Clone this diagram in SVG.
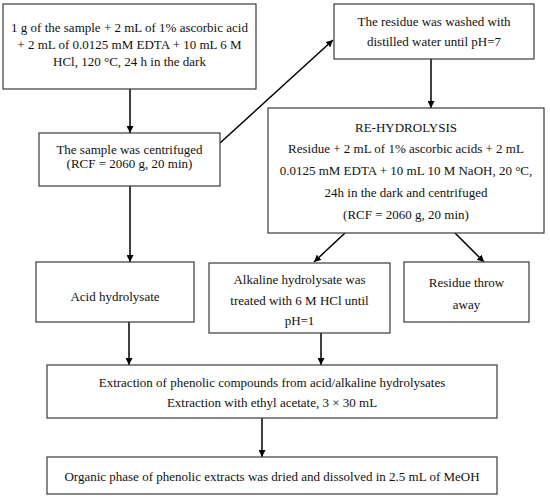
<svg xmlns="http://www.w3.org/2000/svg" width="550" height="501" viewBox="0 0 550 501">
<style>
rect{fill:#fff;stroke:#3a3a3a;stroke-width:1.2}
text{font-family:"Liberation Serif","Times New Roman",serif;font-size:13px;fill:#111;text-anchor:middle}
.c{stroke:#000;stroke-width:1.5;fill:none;marker-end:url(#ah)}
</style>
<defs>
<marker id="ah" viewBox="0 0 10 10" refX="10" refY="5" markerWidth="7" markerHeight="7" markerUnits="userSpaceOnUse" orient="auto"><path d="M0,0 L10,5 L0,10 z" fill="#000"/></marker>
</defs>
<rect x="0" y="0" width="550" height="501" style="fill:#fff;stroke:none"/>
<g id="connectors">
<line class="c" x1="130" y1="89" x2="130" y2="133"/>
<line class="c" x1="220" y1="143" x2="333" y2="40"/>
<line class="c" x1="431" y1="59" x2="431" y2="108"/>
<line class="c" x1="130" y1="186" x2="130" y2="262"/>
<line class="c" x1="345" y1="233" x2="314" y2="262"/>
<line class="c" x1="455" y1="233" x2="484" y2="262"/>
<line class="c" x1="129" y1="322" x2="129" y2="365"/>
<line class="c" x1="321" y1="333" x2="321" y2="365"/>
<line class="c" x1="262" y1="418" x2="262" y2="457"/>
</g>
<g id="n1"><rect x="3" y="4" width="253" height="85"/>
<text x="129.5" y="32">1 g of the sample + 2 mL of 1% ascorbic acid</text>
<text x="129.5" y="49">+ 2 mL of 0.0125 mM EDTA + 10 mL 6 M</text>
<text x="129.5" y="66">HCl, 120 °C, 24 h in the dark</text></g>
<g id="n2"><rect x="39" y="133" width="181" height="53"/>
<text x="129.5" y="154">The sample was centrifuged</text>
<text x="129.5" y="168">(RCF = 2060 g, 20 min)</text></g>
<g id="n3"><rect x="334" y="4" width="200" height="55"/>
<text x="434" y="26">The residue was washed with</text>
<text x="434" y="46">distilled water until pH=7</text></g>
<g id="n4"><rect x="268" y="108" width="276" height="125"/>
<text x="406" y="132">RE-HYDROLYSIS</text>
<text x="406" y="153">Residue + 2 mL of 1% ascorbic acids + 2 mL</text>
<text x="406" y="175">0.0125 mM EDTA + 10 mL 10 M NaOH, 20 °C,</text>
<text x="406" y="197">24h in the dark and centrifuged</text>
<text x="406" y="219">(RCF = 2060 g, 20 min)</text></g>
<g id="n5"><rect x="36" y="262" width="158" height="60"/>
<text x="115" y="301">Acid hydrolysate</text></g>
<g id="n6"><rect x="209" y="263" width="181" height="70"/>
<text x="299.5" y="284">Alkaline hydrolysate was</text>
<text x="299.5" y="305">treated with 6 M HCl until</text>
<text x="299.5" y="325">pH=1</text></g>
<g id="n7"><rect x="404" y="262" width="125" height="60"/>
<text x="466.5" y="287">Residue throw</text>
<text x="466.5" y="309">away</text></g>
<g id="n8"><rect x="47" y="365" width="450" height="53"/>
<text x="272" y="387">Extraction of phenolic compounds from acid/alkaline hydrolysates</text>
<text x="272" y="407">Extraction with ethyl acetate, 3 × 30 mL</text></g>
<g id="n9"><rect x="47" y="457" width="450" height="37"/>
<text x="272" y="481">Organic phase of phenolic extracts was dried and dissolved in 2.5 mL of MeOH</text></g>
</svg>
